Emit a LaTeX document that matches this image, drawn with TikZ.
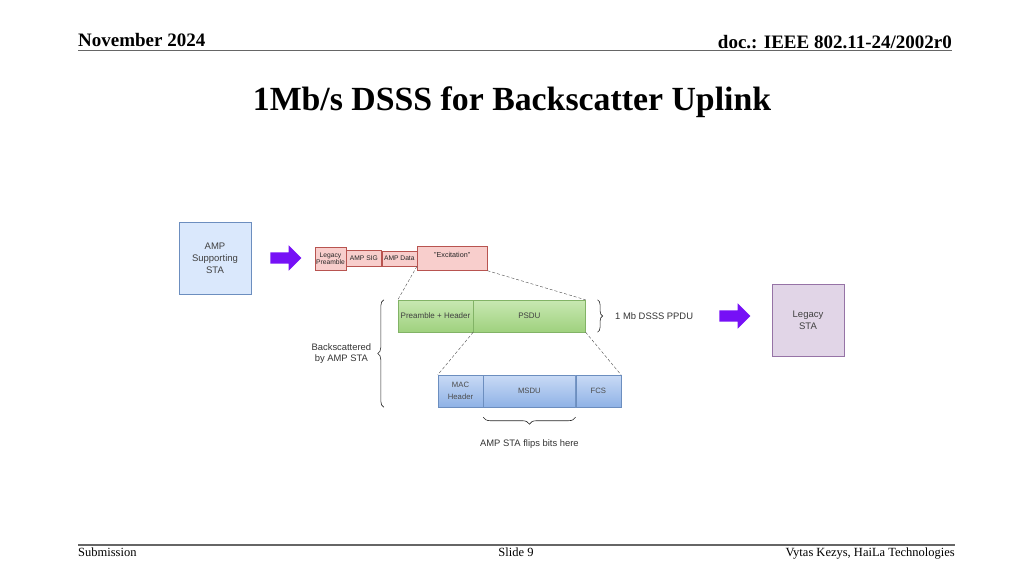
\documentclass[tikz,border=0pt]{standalone}
\usepackage{fontspec}
\setmainfont{Liberation Serif}
\setsansfont{Liberation Sans}
\usetikzlibrary{positioning,shapes.arrows,decorations.pathreplacing}
\definecolor{arrowpurple}{RGB}{118,16,246}
\definecolor{bluefill}{HTML}{DAE8FC}
\definecolor{blueline}{HTML}{6C8EBF}
\definecolor{bluetop}{HTML}{C9DAF5}
\definecolor{bluebot}{HTML}{8FB2E6}
\definecolor{greentop}{HTML}{C8E8B2}
\definecolor{greenbot}{HTML}{9FD17E}
\definecolor{redfill}{HTML}{F8CECC}
\definecolor{redline}{HTML}{B85450}
\definecolor{greenline}{HTML}{82B366}
\definecolor{purplefill}{HTML}{E1D5E7}
\definecolor{purpleline}{HTML}{9673A6}
\begin{document}
\begin{tikzpicture}[x=1pt,y=-1pt,
  sta/.style={draw=#1line, fill=#1fill, minimum width=72pt, minimum height=72pt, align=center, font=\sffamily\fontsize{9.5}{12}\selectfont, text=black!75},
  red/.style={draw=redline, fill=redfill, inner sep=0pt, align=center, font=\sffamily\fontsize{6.7}{7.5}\selectfont, text=black!85},
  grn/.style={draw=greenline, top color=greentop, bottom color=greenbot, minimum height=32pt, inner sep=0pt, align=center, font=\sffamily\fontsize{8}{9}\selectfont, text=black!75},
  blu/.style={draw=blueline, top color=bluetop, bottom color=bluebot, minimum height=32pt, inner sep=0pt, align=center, font=\sffamily\fontsize{7.7}{12}\selectfont, text=black!70},
  fatarrow/.style={single arrow, fill=arrowpurple, minimum width=25pt, minimum height=31pt, single arrow head extend=7pt, inner xsep=0pt, inner ysep=5.5pt},
  zoomln/.style={densely dashed, black!70, thin},
  brc/.style={decorate, decoration={brace, amplitude=#1}, black!85, line width=0.6pt},
  txt/.style={font=\sffamily\fontsize{9.4}{11.5}\selectfont, text=black!80, align=center},
  hdr/.style={inner sep=0pt, font=\bfseries\fontsize{19}{21}\selectfont},
  ftr/.style={inner sep=0pt, font=\fontsize{12.5}{14}\selectfont}]
\useasboundingbox (0,0) rectangle (1024,576);
%header and footer
\node[hdr, anchor=base west] (date) at (78,46) {November 2024};
\node[hdr, anchor=base east] (doc) at (952,48) {doc.: IEEE 802.11-24/2002r0};
\draw[black!60, line width=1.2pt] (78,50.5) -- (952,50.5);
\node[font=\bfseries\fontsize{33.8}{38}\selectfont] (title) at (512,102) {1Mb/s DSSS for Backscatter Uplink};
\draw[black!60, line width=1.2pt] (78,545) -- (955,545);
\node[ftr, anchor=base west] (sub) at (78,556) {Submission};
\node[ftr, anchor=base] (slide) at (516,556) {Slide 9};
\node[ftr, anchor=base east] (auth) at (955,556) {Vytas Kezys, HaiLa Technologies};
%stations and arrows
\node[sta=blue] (amp) at (215,258) {AMP\\Supporting\\STA};
\node[fatarrow] (arr1) at (283,258) {};
\node[sta=purple] (leg) at (808,320) {Legacy\\STA};
\node[fatarrow] (arr2) at (732,316) {};
%AMP frame
\node[red, minimum width=31pt, minimum height=23pt] (lp) at (330.5,258.5) {Legacy\\Preamble};
\node[red, minimum width=35pt, minimum height=16pt, anchor=west] (sig) at (lp.east) {AMP SIG};
\node[red, minimum width=35pt, minimum height=15pt, anchor=west] (ampdata) at (sig.east) {AMP Data};
\node[red, minimum width=70pt, minimum height=24pt, anchor=west, label={[red, font=\sffamily\fontsize{7.2}{8}\selectfont, draw=none, fill=none, anchor=north, yshift=-6pt]north:"Excitation"}] (exc) at (ampdata.east) {};
%DSSS PPDU
\node[grn, minimum width=75pt] (pre) at (435.5,316) {Preamble + Header};
\node[grn, minimum width=112pt, right=0pt of pre] (psdu) {PSDU};
%MPDU
\node[blu, minimum width=45pt] (mac) at (460.5,391) {MAC\\Header};
\node[blu, minimum width=92pt, right=0pt of mac] (msdu) {MSDU};
\node[blu, minimum width=45pt, right=0pt of msdu] (fcs) {FCS};
%zoom lines
\draw[zoomln] (ampdata.south east) -- (pre.north west);
\draw[zoomln] (exc.south east) -- (psdu.north east);
\draw[zoomln] (pre.south east) -- (mac.north west);
\draw[zoomln] (psdu.south east) -- (fcs.north east);
%braces
\draw[brc=5pt] ([xshift=12pt]psdu.north east) -- ([xshift=12pt]psdu.south east) node[txt, midway, right=14pt] (ppdu) {1 Mb DSSS PPDU};
\draw[brc=6pt] ([xshift=-14pt]pre.west |- mac.south) -- ([xshift=-14pt]pre.north west) node[txt, midway, left=9pt] (bsc) {Backscattered\\by AMP STA};
\draw[brc=7pt] ([yshift=-10pt]msdu.south east) -- ([yshift=-10pt]msdu.south west) node[txt, midway, below=19pt] (flip) {AMP STA flips bits here};
\end{tikzpicture}
\end{document}
